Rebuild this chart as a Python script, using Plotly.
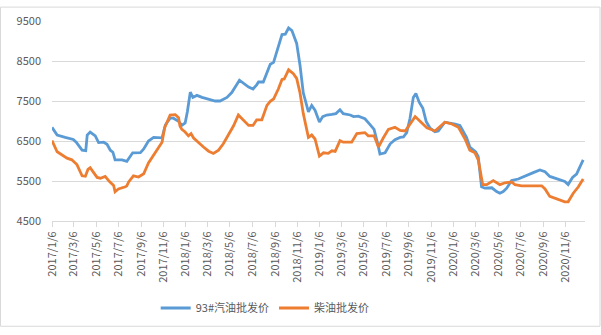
import plotly.graph_objects as go

gas_dates = ["2017-01-06","2017-01-20","2017-02-11","2017-02-25","2017-03-05","2017-03-13","2017-03-29","2017-04-08","2017-04-12","2017-04-20",
"2017-05-04","2017-05-13","2017-05-27","2017-06-05","2017-06-14","2017-06-21","2017-06-27","2017-07-16","2017-07-29","2017-08-14",
"2017-09-04","2017-09-13","2017-09-26","2017-10-10","2017-10-23","2017-11-02","2017-11-11","2017-11-24","2017-12-03","2017-12-17",
"2017-12-26","2018-01-04","2018-01-10","2018-01-18","2018-01-25","2018-02-05","2018-02-19","2018-02-28","2018-03-13","2018-03-27",
"2018-04-09","2018-04-28","2018-05-11","2018-05-27","2018-06-01","2018-06-26","2018-07-08","2018-07-18","2018-07-23","2018-08-05",
"2018-08-15","2018-08-24","2018-09-02","2018-09-11","2018-09-20","2018-09-25","2018-10-04","2018-10-13","2018-10-22","2018-11-04",
"2018-11-13","2018-11-22","2018-12-06","2018-12-15","2018-12-24","2019-01-05","2019-01-14","2019-01-25","2019-02-08","2019-02-19",
"2019-03-02","2019-03-11","2019-03-30","2019-04-08","2019-04-21","2019-05-09","2019-05-23","2019-06-03","2019-06-13","2019-06-19",
"2019-07-03","2019-07-17","2019-07-30","2019-08-13","2019-08-22","2019-08-31","2019-09-09","2019-09-18","2019-09-25","2019-10-04",
"2019-10-14","2019-10-23","2019-11-02","2019-11-16","2019-11-25","2019-12-13","2020-01-10","2020-01-23","2020-02-10","2020-02-19",
"2020-03-06","2020-03-13","2020-03-22","2020-03-31","2020-04-19","2020-05-02","2020-05-11","2020-05-20","2020-05-29","2020-06-12",
"2020-06-30","2020-07-23","2020-08-10","2020-08-28","2020-09-11","2020-09-24","2020-10-17","2020-11-04","2020-11-13","2020-11-25",
"2020-12-06","2020-12-24"]
gas_values = [6840,6650,6590,6565,6540,6470,6270,6260,6650,6725,
6630,6460,6470,6420,6270,6220,6030,6030,5990,6205,
6210,6300,6500,6590,6590,6580,6900,7070,7070,6990,
6890,6950,7230,7720,7590,7640,7590,7570,7545,7500,
7500,7590,7710,7970,8020,7850,7800,7905,7975,7975,
8185,8420,8465,8740,8980,9160,9170,9325,9260,8940,
8400,7705,7230,7390,7270,6975,7110,7150,7165,7185,
7280,7185,7150,7110,7120,7055,6910,6790,6430,6175,
6205,6430,6535,6590,6600,6710,7070,7590,7690,7470,
7320,6990,6830,6730,6750,6970,6925,6890,6590,6350,
6230,6110,5355,5320,5330,5235,5195,5235,5315,5510,
5550,5650,5710,5775,5730,5615,5550,5490,5410,5590,
5670,6030]

diesel_dates = ["2017-01-06","2017-01-20","2017-02-16","2017-03-01","2017-03-15","2017-03-29","2017-04-07","2017-04-14","2017-04-20","2017-05-09",
"2017-05-18","2017-05-31","2017-06-11","2017-06-23","2017-06-27","2017-07-06","2017-07-25","2017-07-29","2017-08-03","2017-08-12",
"2017-08-16","2017-08-30","2017-09-13","2017-09-26","2017-10-14","2017-10-28","2017-11-02","2017-11-09","2017-11-15","2017-11-24",
"2017-12-08","2017-12-17","2017-12-21","2017-12-26","2018-01-04","2018-01-13","2018-01-20","2018-01-27","2018-02-23","2018-03-09",
"2018-03-22","2018-04-05","2018-04-18","2018-05-07","2018-05-16","2018-05-29","2018-06-26","2018-07-08","2018-07-18","2018-08-01",
"2018-08-15","2018-08-24","2018-09-02","2018-09-15","2018-09-25","2018-10-01","2018-10-13","2018-10-26","2018-11-04","2018-11-13",
"2018-11-22","2018-12-06","2018-12-15","2018-12-24","2019-01-05","2019-01-16","2019-01-29","2019-02-08","2019-02-17","2019-03-02",
"2019-03-11","2019-04-03","2019-04-17","2019-05-09","2019-05-18","2019-06-03","2019-06-15","2019-06-28","2019-07-12","2019-07-30",
"2019-08-13","2019-08-27","2019-09-09","2019-09-23","2019-10-07","2019-10-25","2019-11-16","2019-11-30","2019-12-13","2020-01-01",
"2020-01-19","2020-02-06","2020-02-19","2020-03-04","2020-03-13","2020-03-25","2020-04-05","2020-04-23","2020-05-11","2020-05-25",
"2020-06-12","2020-06-21","2020-07-09","2020-09-02","2020-09-11","2020-09-24","2020-10-13","2020-11-04","2020-11-13","2020-11-27",
"2020-12-11","2020-12-24"]
diesel_values = [6510,6230,6070,6030,5910,5630,5620,5790,5830,5590,
5570,5615,5490,5390,5230,5300,5355,5380,5475,5590,
5630,5600,5680,5950,6210,6430,6470,6830,6950,7150,
7160,7080,6870,6790,6725,6630,6685,6575,6350,6245,
6190,6270,6430,6750,6880,7150,6890,6890,7030,7030,
7390,7490,7550,7800,8040,8050,8280,8185,8065,7705,
7185,6590,6650,6550,6125,6205,6190,6255,6240,6510,
6470,6470,6685,6710,6630,6630,6350,6575,6790,6845,
6765,6750,6910,7110,6990,6830,6750,6870,6970,6925,
6845,6550,6270,6205,6030,5410,5410,5510,5410,5455,
5475,5410,5380,5380,5300,5115,5060,4980,4980,5195,
5355,5550]

tick_dates = ["2017-01-06","2017-03-06","2017-05-06","2017-07-06","2017-09-06","2017-11-06",
"2018-01-06","2018-03-06","2018-05-06","2018-07-06","2018-09-06","2018-11-06",
"2019-01-06","2019-03-06","2019-05-06","2019-07-06","2019-09-06","2019-11-06",
"2020-01-06","2020-03-06","2020-05-06","2020-07-06","2020-09-06","2020-11-06"]
tick_labels = ["2017/1/6","2017/3/6","2017/5/6","2017/7/6","2017/9/6","2017/11/6",
"2018/1/6","2018/3/6","2018/5/6","2018/7/6","2018/9/6","2018/11/6",
"2019/1/6","2019/3/6","2019/5/6","2019/7/6","2019/9/6","2019/11/6",
"2020/1/6","2020/3/6","2020/5/6","2020/7/6","2020/9/6","2020/11/6"]
y_ticks = [4500, 5500, 6500, 7500, 8500, 9500]

series_names = ["93#汽油批发价", "柴油批发价"]

FONT = "Noto Sans CJK SC, Noto Sans, sans-serif"
fig = go.Figure()
fig.add_trace(go.Scatter(x=gas_dates, y=gas_values, mode="lines", name=series_names[0],
                         line=dict(color="#5B9BD5", width=2.8)))
fig.add_trace(go.Scatter(x=diesel_dates, y=diesel_values, mode="lines", name=series_names[1],
                         line=dict(color="#ED7D31", width=2.8)))

fig.update_layout(
    width=601, height=335,
    margin=dict(l=52, r=16, t=15, b=111),
    paper_bgcolor="white", plot_bgcolor="white",
    font=dict(family=FONT, size=11, color="#595959"),
    showlegend=True,
    legend=dict(orientation="h", x=0.40, xanchor="center", y=-0.435, yanchor="middle",
                font=dict(size=11, color="#595959"), itemwidth=30, bgcolor="rgba(0,0,0,0)"),
    xaxis=dict(type="date", range=["2017-01-06", "2020-12-29"],
               tickvals=tick_dates, ticktext=tick_labels, tickangle=-90,
               showgrid=False, showline=True, linecolor="#d9d9d9", linewidth=1,
               ticks="outside", ticklen=5, tickcolor="#d9d9d9",
               tickfont=dict(size=11, color="#595959"), zeroline=False),
    yaxis=dict(range=[4500, 9500], tickvals=y_ticks, showgrid=True, gridcolor="#d9d9d9",
               gridwidth=1, zeroline=False, showline=False,
               ticklabelstandoff=10, tickfont=dict(size=11, color="#595959")),
)
fig.add_shape(type="rect", xref="paper", yref="paper",
              x0=(0.5 - 52) / 533, x1=(600 - 52) / 533,
              y0=(224 - 334) / 209, y1=(224 - 0.5) / 209,
              line=dict(color="#d9d9d9", width=1), layer="below")
fig.write_html("out.html")
